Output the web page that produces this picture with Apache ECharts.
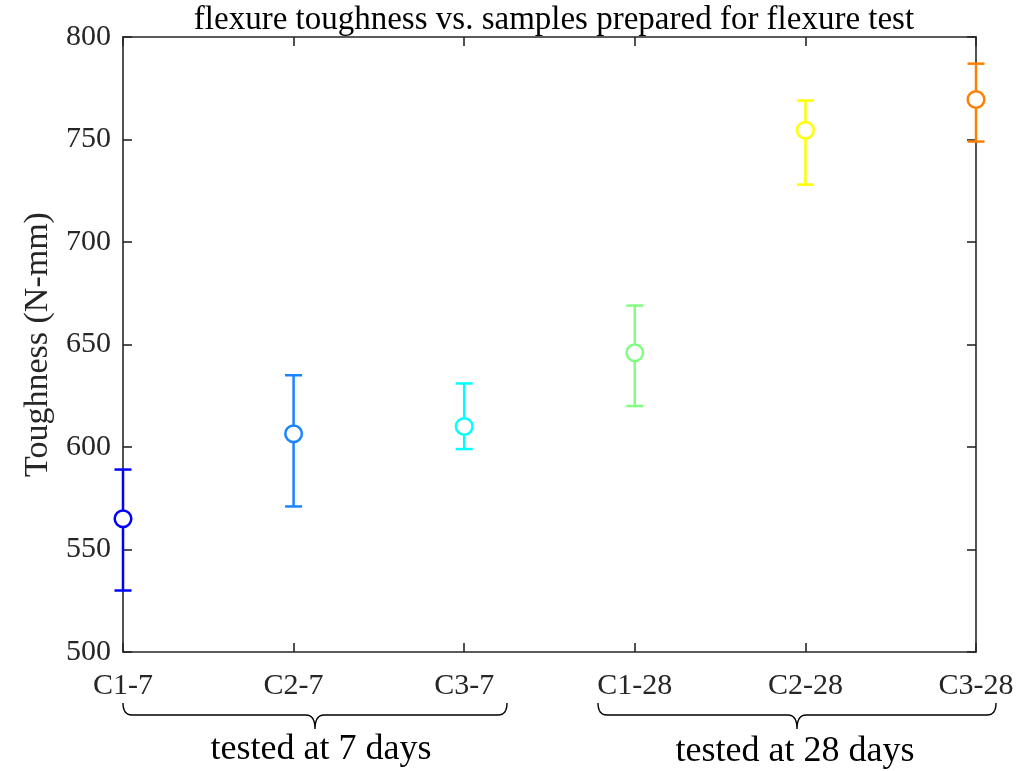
<!DOCTYPE html>
<html>
<head>
<meta charset="utf-8">
<title>Flexure toughness</title>
<script src="https://cdn.jsdelivr.net/npm/echarts@6/dist/echarts.min.js"></script>
<style>
  html, body { margin: 0; padding: 0; background: #ffffff; }
  #chart { width: 1035px; height: 771px; }
</style>
</head>
<body>
<div id="chart"></div>
<script>
// Sample groups (curing age in days after the dash)
const categories = ['C1-7', 'C2-7', 'C3-7', 'C1-28', 'C2-28', 'C3-28'];
// Mean flexure toughness (N-mm) and the error-bar ends
const means = [565, 606.5, 610, 646, 754.5, 769.5];
const lows  = [530, 571, 599, 620, 728, 749];
const highs = [589, 635, 631, 669, 769, 787];
// One colour per sample
const colors = ['#0000ff', '#1a84ff', '#00ffff', '#80ff80', '#ffff00', '#ff8000'];
// Y axis range and step
const yMin = 500, yMax = 800, yStep = 50;

const axisColor = '#262626';
const serif = '"Liberation Serif", "Times New Roman", serif';

const chart = echarts.init(document.getElementById('chart'), null, { renderer: 'canvas' });

const errData = categories.map((c, i) => [i, lows[i], highs[i], means[i]]);

function renderErrorBar(params, api) {
  const i = api.value(0);
  const low = api.coord([i, api.value(1)]);
  const high = api.coord([i, api.value(2)]);
  const mid = api.coord([i, api.value(3)]);
  const color = colors[i];
  const capHalf = 8.5;
  const style = { stroke: color, lineWidth: 2.5, fill: null };
  return {
    type: 'group',
    children: [
      { type: 'line', shape: { x1: high[0], y1: high[1], x2: low[0], y2: low[1] }, style },
      { type: 'line', shape: { x1: high[0] - capHalf, y1: high[1], x2: high[0] + capHalf, y2: high[1] }, style },
      { type: 'line', shape: { x1: low[0] - capHalf, y1: low[1], x2: low[0] + capHalf, y2: low[1] }, style },
      { type: 'circle', shape: { cx: mid[0], cy: mid[1], r: 8.3 }, style: { stroke: color, lineWidth: 2.5, fill: '#ffffff' } }
    ]
  };
}

// Points along a quadratic curve from p0 to p2 with control p1
function quad(p0, p1, p2, n) {
  const pts = [];
  for (let k = 1; k <= n; k++) {
    const t = k / n, u = 1 - t;
    pts.push([u * u * p0[0] + 2 * u * t * p1[0] + t * t * p2[0],
              u * u * p0[1] + 2 * u * t * p1[1] + t * t * p2[1]]);
  }
  return pts;
}

// Curly brace grouping the samples by test age
function bracePoints(x1, x2, xm, y, h, d) {
  const r = 9;
  let pts = [[x1, y - h]];
  pts = pts.concat(quad([x1, y - h], [x1, y], [x1 + r, y], 8));
  pts.push([xm - r, y]);
  pts = pts.concat(quad([xm - r, y], [xm, y], [xm, y + d], 8));
  pts = pts.concat(quad([xm, y + d], [xm, y], [xm + r, y], 8));
  pts.push([x2 - r, y]);
  pts = pts.concat(quad([x2 - r, y], [x2, y], [x2, y - h], 8));
  return pts;
}

const option = {
  backgroundColor: '#ffffff',
  animation: false,
  title: {
    text: 'flexure toughness vs. samples prepared for flexure test',
    left: 549,
    textAlign: 'center',
    top: -1,
    textStyle: { fontFamily: serif, fontSize: 33, fontWeight: 'normal', color: '#000000' }
  },
  grid: { left: 123, right: 59, top: 37, bottom: 119 },
  xAxis: [
    {
      type: 'category',
      data: categories,
      boundaryGap: false,
      position: 'bottom',
      axisLine: { lineStyle: { color: axisColor, width: 1.6 } },
      axisTick: { inside: true, length: 9, alignWithLabel: true, lineStyle: { color: axisColor, width: 1.6 } },
      axisLabel: { margin: 19, fontFamily: serif, fontSize: 30, color: axisColor, interval: 0 },
      splitLine: { show: false }
    },
    {
      type: 'category',
      data: categories,
      boundaryGap: false,
      position: 'top',
      axisLine: { lineStyle: { color: axisColor, width: 1.6 } },
      axisTick: { inside: true, length: 9, lineStyle: { color: axisColor, width: 1.6 } },
      axisLabel: { show: false },
      splitLine: { show: false }
    }
  ],
  yAxis: [
    {
      type: 'value',
      min: yMin, max: yMax, interval: yStep,
      position: 'left',
      name: 'Toughness (N-mm)',
      nameLocation: 'middle',
      nameGap: 68,
      nameTextStyle: { fontFamily: serif, fontSize: 34, color: axisColor },
      axisLine: { show: true, lineStyle: { color: axisColor, width: 1.6 } },
      axisTick: { show: true, inside: true, length: 9, lineStyle: { color: axisColor, width: 1.6 } },
      axisLabel: { margin: 12, fontFamily: serif, fontSize: 30, color: axisColor },
      splitLine: { show: false }
    },
    {
      type: 'value',
      min: yMin, max: yMax, interval: yStep,
      position: 'right',
      axisLine: { show: true, lineStyle: { color: axisColor, width: 1.6 } },
      axisTick: { show: true, inside: true, length: 9, lineStyle: { color: axisColor, width: 1.6 } },
      axisLabel: { show: false },
      splitLine: { show: false }
    }
  ],
  series: [
    {
      type: 'custom',
      xAxisIndex: 0,
      yAxisIndex: 0,
      data: errData,
      renderItem: renderErrorBar,
      clip: false,
      z: 5,
      encode: { x: 0, y: [1, 2, 3] }
    }
  ],
  graphic: [
    {
      type: 'polyline',
      shape: { points: bracePoints(123, 507, 315, 715, 12, 14) },
      style: { stroke: '#000000', lineWidth: 1.4, fill: null }
    },
    {
      type: 'polyline',
      shape: { points: bracePoints(598, 996, 797, 715, 12, 14) },
      style: { stroke: '#000000', lineWidth: 1.4, fill: null }
    },
    {
      type: 'text',
      x: 321, y: 750,
      style: { text: 'tested at 7 days', font: '36px ' + serif, fill: '#000000', textAlign: 'center', textVerticalAlign: 'middle' }
    },
    {
      type: 'text',
      x: 795, y: 752,
      style: { text: 'tested at 28 days', font: '36px ' + serif, fill: '#000000', textAlign: 'center', textVerticalAlign: 'middle' }
    }
  ]
};

chart.setOption(option);
</script>
</body>
</html>
